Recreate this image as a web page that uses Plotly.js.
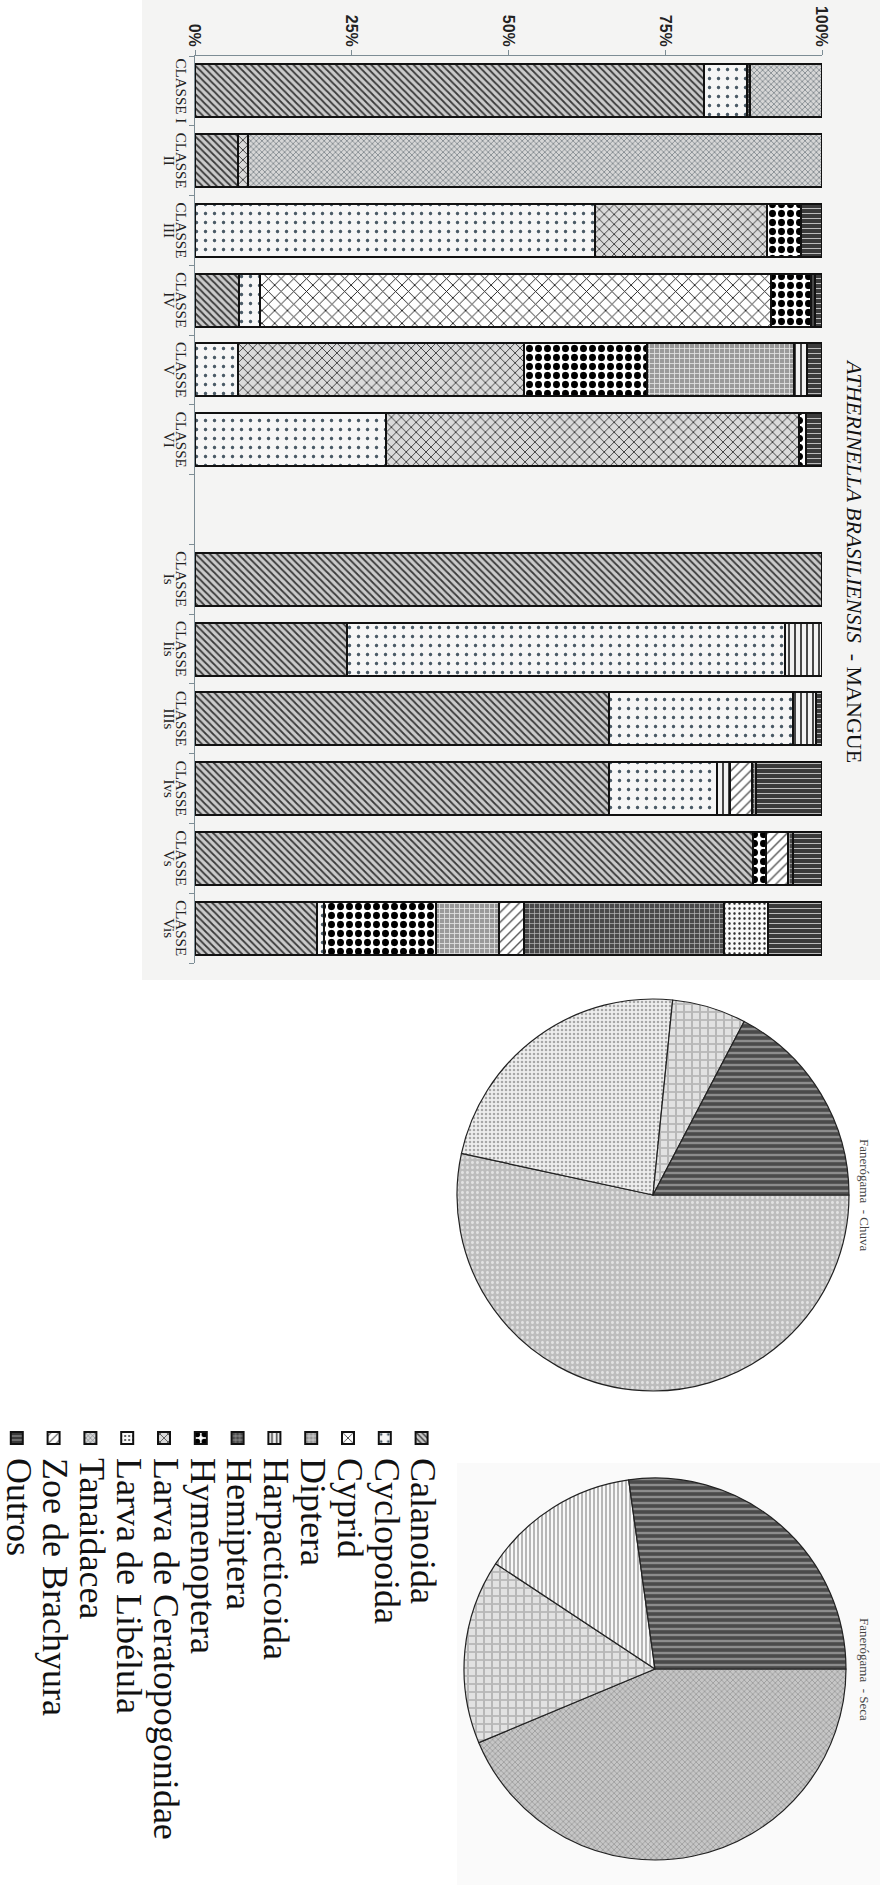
<!DOCTYPE html>
<html>
<head>
<meta charset="utf-8">
<script src="https://cdn.plot.ly/plotly-3.0.1.min.js"></script>
<style>
  html, body { margin:0; padding:0; width:880px; height:1885px; overflow:hidden; background:#ffffff; }
  #wrap { position:absolute; left:0; top:0; width:1885px; height:880px; transform-origin:0 0; }
  #chart { width:1885px; height:880px; }
  .legendtext { font-size: 36px !important; }
</style>
</head>
<body>
<div id="wrap"><div id="chart"></div></div>
<script>
// ---------------- DATA ----------------
const categories = ["CLASSE I","CLASSE II","CLASSE III","CLASSE IV","CLASSE V","CLASSE VI",
                    "CLASSE Is","CLASSE Iis","CLASSE IIIs","CLASSE Ivs","CLASSE Vs","CLASSE Vis"];
const tickLabels = ["CLASSE I","CLASSE<br>II","CLASSE<br>III","CLASSE<br>IV","CLASSE<br>V","CLASSE<br>VI",
                    "CLASSE<br>Is","CLASSE<br>Iis","CLASSE<br>IIIs","CLASSE<br>Ivs","CLASSE<br>Vs","CLASSE<br>Vis"];
const gapSlot = " ";
const valueTicks = [0, 25, 50, 75, 100];
const valueTickLabels = ["0%", "25%", "50%", "75%", "100%"];

// percent of diet per class (stack order = trace order)
const calanoida     = [81.2, 6.8, 0,    7.0,  0,    0,    100,  24.2, 66.0, 66.0, 89.0, 19.5];
const cyclopoida    = [6.8,  0,   63.8, 3.4,  6.8,  30.5, 0,    69.9, 29.3, 17.2, 0,    1.0];
const cyprid        = [0,    0,   0,    81.4, 0,    0,    0,    0,    0,    0,    0,    0];
const ceratopogon   = [0,    1.7, 27.4, 0,    45.6, 65.9, 0,    0,    0,    0,    0,    0];
const hymenoptera   = [0,    0,   5.4,  6.5,  19.7, 1.1,  0,    0,    0,    0,    2.1,  17.9];
const diptera       = [0,    0,   0,    0,    23.5, 0,    0,    0,    0,    0,    0,    10.1];
const harpacticoida = [0,    0,   0,    0.6,  2.0,  0,    0,    5.9,  3.8,  2.2,  0,    0];
const zoe           = [0,    0,   0,    0,    0,    0,    0,    0,    0,    3.5,  3.4,  3.9];
const hemiptera     = [0.5,  0,   0,    0,    0,    0,    0,    0,    0,    0.6,  0.9,  32.0];
const libelula      = [0,    0,   0,    0,    0,    0,    0,    0,    0,    0,    0,    7.0];
const tanaidacea    = [11.5, 91.5,0,    0,    0,    0,    0,    0,    0,    0,    0,    0];
const outros        = [0,    0,   3.4,  1.1,  2.4,  2.5,  0,    0,    0.9,  10.5, 4.6,  8.6];

const legendOrder = ["Calanoida","Cyclopoida","Cyprid","Diptera","Harpacticoida","Hemiptera","Hymenoptera",
                     "Larva de Ceratopogonidae","Larva de Libélula","Tanaidacea","Zoe de Brachyura","Outros"];

// pies
const chuvaLabels = ["Diptera", "Larva de Libélula", "Tanaidacea", "Outros"];
const chuvaValues = [53.4, 23.2, 6.1, 17.3];
const secaLabels  = ["Larva de Ceratopogonidae", "Tanaidacea", "Zoe de Brachyura", "Outros"];
const secaValues  = [43.7, 15.6, 13.5, 27.2];

const chartTitle = "<i>ATHERINELLA BRASILIENSIS</i>&nbsp;&nbsp;- MANGUE";
const chuvaTitle = "Fanerógama&nbsp; - Chuva";
const secaTitle  = "Fanerógama&nbsp; - Seca";

// ---------------- STYLES ----------------
const styles = {
  "Calanoida":                {bg:"#cacaca", fg:"#3a3a3a", shape:"/",  size:5,  sol:0.35},
  "Cyclopoida":               {bg:"#f6f6f6", fg:"#4a5a66", shape:".",  size:9,  sol:0.12},
  "Cyprid":                   {bg:"#ffffff", fg:"#222222", shape:"x",  size:9,  sol:0.2},
  "Larva de Ceratopogonidae": {bg:"#dadada", fg:"#3a3a3a", shape:"x",  size:7,  sol:0.25},
  "Hymenoptera":              {bg:"#ffffff", fg:"#000000", shape:".",  size:9,  sol:0.5},
  "Diptera":                  {bg:"#999999", fg:"#e4e4e4", shape:"+",  size:5,  sol:0.3},
  "Harpacticoida":            {bg:"#f2f2f2", fg:"#333333", shape:"-",  size:6,  sol:0.3},
  "Zoe de Brachyura":         {bg:"#ffffff", fg:"#555555", shape:"\\", size:7,  sol:0.2},
  "Hemiptera":                {bg:"#4a4a4a", fg:"#bcbcbc", shape:"+",  size:5,  sol:0.25},
  "Larva de Libélula":        {bg:"#f8f8f8", fg:"#333333", shape:".",  size:5,  sol:0.2},
  "Tanaidacea":               {bg:"#d6d6d6", fg:"#667077", shape:"x",  size:4,  sol:0.3},
  "Outros":                   {bg:"#3a3a3a", fg:"#bbbbbb", shape:"|",  size:5,  sol:0.2}
};

const stackSeries = [
  ["Calanoida", calanoida], ["Cyclopoida", cyclopoida], ["Cyprid", cyprid],
  ["Larva de Ceratopogonidae", ceratopogon], ["Hymenoptera", hymenoptera], ["Diptera", diptera],
  ["Harpacticoida", harpacticoida], ["Zoe de Brachyura", zoe], ["Hemiptera", hemiptera],
  ["Larva de Libélula", libelula], ["Tanaidacea", tanaidacea], ["Outros", outros]
];

const W = 1885, H = 880;
const axisColor = "#7d8d95";

const traces = stackSeries.map(([name, vals]) => {
  const s = styles[name];
  return {
    type: "bar", name: name, x: categories, y: vals.map(v => v === 0 ? null : v),
    xaxis: "x", yaxis: "y",
    legendrank: legendOrder.indexOf(name) + 1,
    marker: {
      color: s.bg,
      line: {color: "#111111", width: 2},
      pattern: {shape: s.shape, bgcolor: s.bg, fgcolor: s.fg, size: s.size, solidity: s.sol, fillmode: "replace"}
    },
    hoverinfo: "skip"
  };
});

function pieTrace(labels, values, patterns, domain) {
  return {
    type: "pie", labels: labels, values: values, sort: false, direction: "clockwise", rotation: 0,
    textinfo: "none", showlegend: false, hoverinfo: "skip",
    domain: domain,
    marker: {
      colors: patterns.map(p => p.bg),
      line: {color: "#222222", width: 1.2},
      pattern: {
        shape: patterns.map(p => p.shape), bgcolor: patterns.map(p => p.bg),
        fgcolor: patterns.map(p => p.fg), size: patterns.map(p => p.size),
        solidity: patterns.map(p => p.sol), fillmode: "replace"
      }
    }
  };
}

const chuvaStyles = [
  {bg:"#bdbdbd", fg:"#e2e2e2", shape:".", size:5, sol:0.3},
  {bg:"#eeeeee", fg:"#a8a8a8", shape:".", size:4, sol:0.3},
  {bg:"#e2e2e2", fg:"#b8b8b8", shape:"+", size:8, sol:0.4},
  {bg:"#4a4a4a", fg:"#8c8c8c", shape:"|", size:6, sol:0.4}
];
const secaStyles = [
  {bg:"#c6c6c6", fg:"#8f8f8f", shape:"x", size:4, sol:0.3},
  {bg:"#e2e2e2", fg:"#b8b8b8", shape:"+", size:8, sol:0.4},
  {bg:"#f8f8f8", fg:"#8a8a8a", shape:"-", size:4, sol:0.3},
  {bg:"#4a4a4a", fg:"#8c8c8c", shape:"|", size:6, sol:0.4}
];

traces.push(pieTrace(chuvaLabels, chuvaValues, chuvaStyles,
  {x: [999/W, 1391/W], y: [(H-423)/H, (H-31)/H]}));
traces.push(pieTrace(secaLabels, secaValues, secaStyles,
  {x: [1478/W, 1860/W], y: [(H-416)/H, (H-34)/H]}));

const layout = {
  width: W, height: H, autosize: false,
  margin: {l:0, r:0, t:0, b:0, autoexpand: false},
  paper_bgcolor: "#ffffff", plot_bgcolor: "rgba(0,0,0,0)",
  barmode: "stack", bargap: 0.24,
  font: {family: "Liberation Serif, serif", color: "#111111"},
  xaxis: {
    domain: [56/W, 963/W], type: "category", automargin: false,
    categoryorder: "array",
    categoryarray: categories.slice(0,6).concat([gapSlot], categories.slice(6)),
    range: [-0.5, 12.5],
    tickmode: "array",
    tickvals: categories.slice(0,6).concat([gapSlot], categories.slice(6)),
    ticktext: tickLabels.slice(0,6).concat([""], tickLabels.slice(6)),
    tickson: "boundaries", ticks: "outside", ticklen: 5, tickcolor: axisColor, tickwidth: 1,
    showline: true, linecolor: axisColor, linewidth: 1,
    showgrid: false, zeroline: false,
    tickfont: {family: "Liberation Serif, serif", size: 15, color: "#222222"},
    tickangle: 0, fixedrange: true
  },
  yaxis: {
    domain: [(H-685)/H, (H-58)/H], range: [0, 100], automargin: false,
    tickmode: "array", tickvals: valueTicks, ticktext: valueTickLabels,
    ticks: "outside", ticklen: 5, tickcolor: axisColor, tickwidth: 1,
    showline: true, linecolor: axisColor, linewidth: 1,
    showgrid: false, zeroline: false,
    tickfont: {family: "Liberation Sans, Arial, sans-serif", size: 16, color: "#222222", weight: "bold"},
    fixedrange: true
  },
  legend: {
    orientation: "v", traceorder: "normal",
    x: 1418/W, xanchor: "left", y: (H-435)/H, yanchor: "top",
    bgcolor: "rgba(0,0,0,0)", borderwidth: 0, tracegroupgap: 0,
    font: {family: "Liberation Serif, serif", size: 26, color: "#111111"}
  },
  showlegend: true,
  shapes: [
    {type:"rect", xref:"paper", yref:"paper", x0:0, x1:980/W, y0:(H-738)/H, y1:1,
     fillcolor:"#f4f4f3", line:{width:0}, layer:"below"},
    {type:"rect", xref:"paper", yref:"paper", x0:1463/W, x1:1, y0:(H-423)/H, y1:1,
     fillcolor:"#fafafa", line:{width:0}, layer:"below"}
  ],
  annotations: [
    {text: chartTitle, xref:"paper", yref:"paper", x: 561/W, y: (H-25)/H, xanchor:"center", yanchor:"middle",
     showarrow:false, font:{family:"Liberation Serif, serif", size:22, color:"#111111"}},
    {text: chuvaTitle, xref:"paper", yref:"paper", x: 1195/W, y: (H-15)/H, xanchor:"center", yanchor:"middle",
     showarrow:false, font:{family:"Liberation Serif, serif", size:13, color:"#444444"}},
    {text: secaTitle, xref:"paper", yref:"paper", x: 1669/W, y: (H-15)/H, xanchor:"center", yanchor:"middle",
     showarrow:false, font:{family:"Liberation Serif, serif", size:13, color:"#444444"}}
  ]
};

Plotly.newPlot("chart", traces, layout, {staticPlot: true, displayModeBar: false}).then(() => {
  // tighten the two-line category labels (as in the original)
  document.querySelectorAll("#chart .xtick text tspan.line").forEach(t => {
    const dy = t.getAttribute("dy");
    if (dy && /em$/.test(dy)) {
      const v = parseFloat(dy);
      if (v) t.setAttribute("dy", (v * 0.6) + "em");
    }
  });
  document.getElementById("wrap").style.transform = "translate(880px, 0px) rotate(90deg)";
});
</script>
</body>
</html>
